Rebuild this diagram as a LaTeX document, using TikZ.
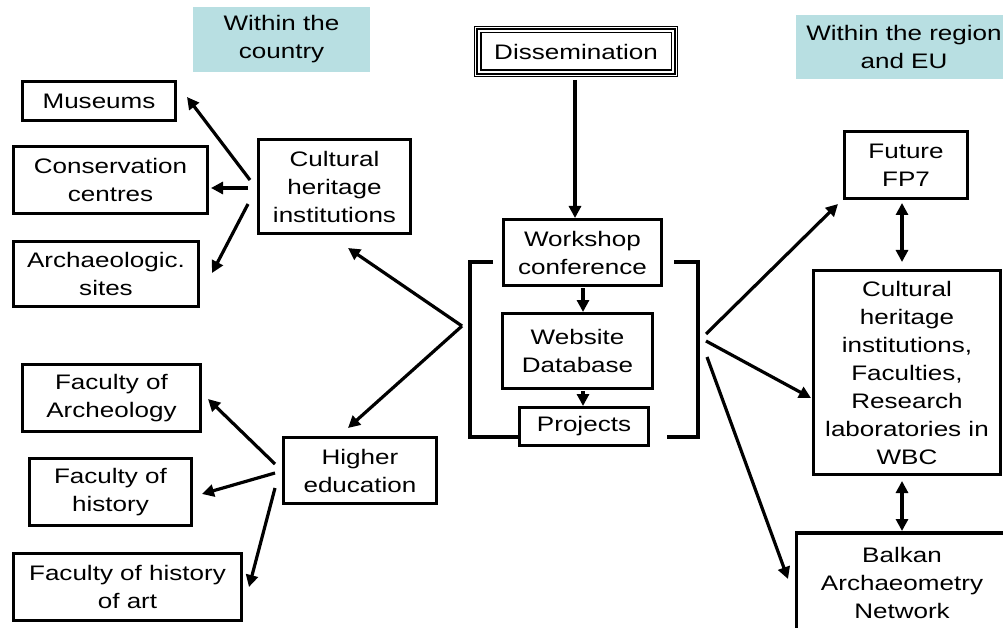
\documentclass[tikz,border=0pt]{standalone}
\usepackage{fontspec}
\setmainfont{Liberation Sans}[FakeStretch=1.24]
\usetikzlibrary{arrows.meta,calc}
\definecolor{tealbg}{RGB}{184,223,226}
\tikzset{
  box/.style={draw, line width=3.5pt, align=center, inner sep=0pt, font=\fontsize{21}{28}\selectfont},
  tealbox/.style={fill=tealbg, align=center, inner sep=0pt, font=\fontsize{21}{28}\selectfont},
  arr/.style={line width=3.2pt, -{Triangle[length=12pt,width=12pt]}},
  darr/.style={line width=3.2pt, {Triangle[length=12pt,width=12pt]}-{Triangle[length=12pt,width=12pt]}},
  bracketline/.style={line width=3.5pt},
}
\begin{document}
\begin{tikzpicture}[x=1pt,y=-1pt]
\useasboundingbox (0,0) rectangle (1003,628);
\clip (0,0) rectangle (1003,628);
% labels
\node[tealbox, minimum width=177pt, minimum height=65pt] (tl) at (281.5,39.5) {Within the\\country};
\node[tealbox, minimum width=216pt, minimum height=64pt] (tr) at (904,47) {Within the region\\and EU};
% dissemination (triple frame)
\node[draw, line width=1.3pt, inner sep=0pt, minimum width=203pt, minimum height=50pt,
      font=\fontsize{21}{28}\selectfont] (diss) at (576,51.5) {Dissemination};
\draw[line width=2.6pt] ([shift={(3.2,3.2)}]diss.north west) rectangle ([shift={(-3.2,-3.2)}]diss.south east);
\draw[line width=1.3pt] ([shift={(7,7)}]diss.north west) rectangle ([shift={(-7,-7)}]diss.south east);
% centre
\node[box, minimum width=158pt, minimum height=66pt] (ws) at (582.5,252.5) {Workshop\\conference};
\node[box, minimum width=150pt, minimum height=75pt] (web) at (577.5,351) {Website\\Database};
\node[box, minimum width=129pt, minimum height=38pt] (proj) at (584,426.5) {Projects};
% left upper
\node[box, minimum width=152pt, minimum height=94pt] (chi) at (334.5,186.5) {Cultural\\heritage\\institutions};
\node[box, minimum width=153pt, minimum height=39pt] (mus) at (99,101) {Museums};
\node[box, minimum width=194pt, minimum height=67pt] (cons) at (110.5,180) {Conservation\\centres};
\node[box, minimum width=185pt, minimum height=65pt] (arch) at (106,274) {Archaeologic.\\sites};
% left lower
\node[box, minimum width=153pt, minimum height=66pt] (he) at (360,470.5) {Higher\\education};
\node[box, minimum width=178pt, minimum height=67pt] (fa) at (111.5,398) {Faculty of\\Archeology};
\node[box, minimum width=162pt, minimum height=67pt] (fh) at (110.5,492) {Faculty of\\history};
\node[box, minimum width=228pt, minimum height=67pt] (fha) at (127.5,587) {Faculty of history\\of art};
% right
\node[box, minimum width=123pt, minimum height=67pt] (fp) at (906,165) {Future\\FP7};
\node[box, minimum width=187pt, minimum height=204pt] (big) at (907,372.5) {Cultural\\heritage\\institutions,\\Faculties,\\Research\\laboratories in\\WBC};
\node[box, minimum width=211pt, minimum height=100pt] (bal) at (902,583) {Balkan\\Archaeometry\\Network};
% centre arrows
\draw[arr] (575,80) -- (575,218);
\draw[arr] (583,288) -- (583,312);
\draw[arr] (583,391) -- (583,406);
% brackets
\coordinate (bl1) at (493,262);
\coordinate (bl2) at (470,262);
\coordinate (bl3) at (470,437);
\coordinate (bl4) at (518,437);
\coordinate (br1) at (674,262);
\coordinate (br2) at (698,262);
\coordinate (br3) at (698,437);
\coordinate (br4) at (667,437);
\draw[bracketline] (bl1) -- (bl2) -- (bl3) -- (bl4);
\draw[bracketline] (br1) -- (br2) -- (br3) -- (br4);
% hubs
\coordinate (hl) at (462,326);
\coordinate (chiT) at (348,248);
\coordinate (heT) at (348,428);
\draw[arr] (hl) -- (chiT);
\draw[arr] (hl) -- (heT);
\coordinate (hr1) at (706,334);
\coordinate (hr2) at (706,341);
\coordinate (hr3) at (707,357);
\coordinate (fpT) at (838,204);
\coordinate (bigT) at (811,398);
\coordinate (balT) at (788,579);
\draw[arr] (hr1) -- (fpT);
\draw[arr] (hr2) -- (bigT);
\draw[arr] (hr3) -- (balT);
% chi fan
\draw[arr] (250,180) -- (187,97);
\draw[arr] (248,188) -- (211,188);
\draw[arr] (248,204) -- (212,273);
% he fan
\draw[arr] (275,464) -- (208,399);
\draw[arr] (275,473) -- (202,494);
\draw[arr] (275,488) -- (249,587);
% right double arrows
\draw[darr] (902,203) -- (902,262);
\draw[darr] (902,481) -- (902,531);
\end{tikzpicture}
\end{document}
